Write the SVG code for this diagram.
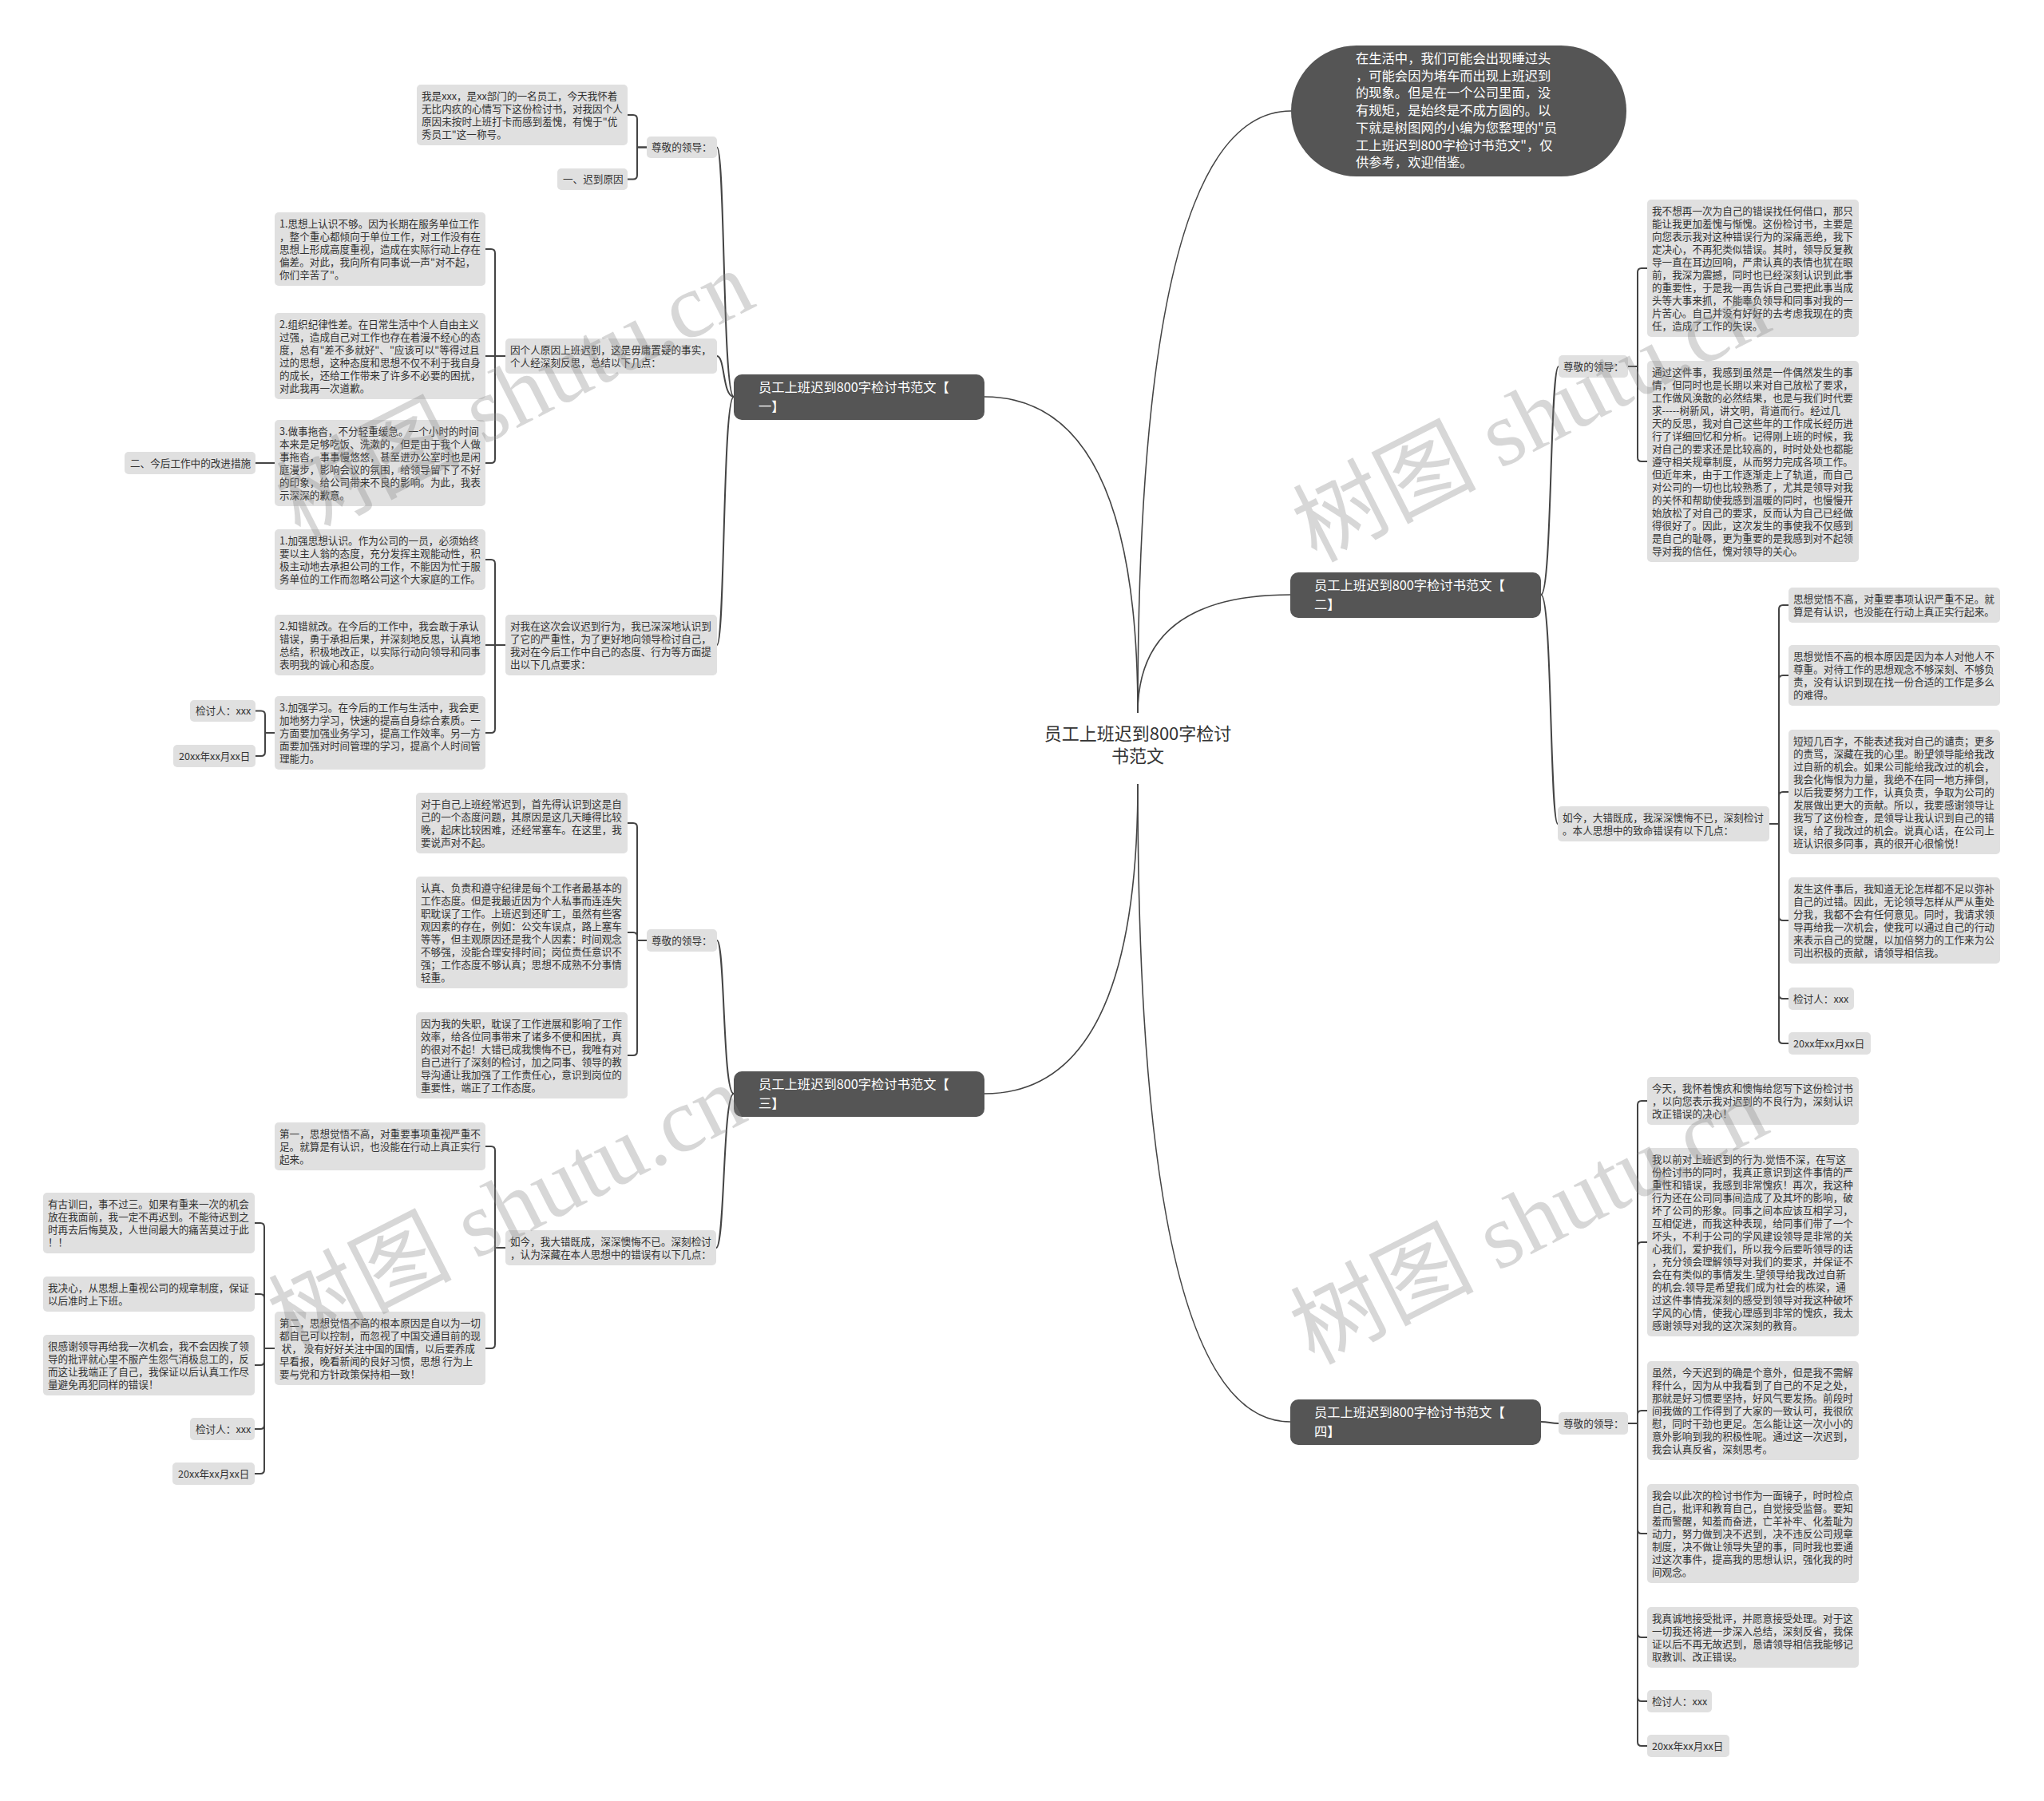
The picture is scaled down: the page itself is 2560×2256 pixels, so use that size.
<svg xmlns="http://www.w3.org/2000/svg" width="2560" height="2256" viewBox="0 0 2560 2256">
<style>
.leaf rect{fill:#e0e0e0}
.leaf text{font-family:"Noto Sans CJK SC","Noto Sans",sans-serif;font-size:12.6px;fill:#333}
.br rect{fill:#555}
.br text{font-family:"Noto Sans CJK SC","Noto Sans",sans-serif;font-size:16.3px;fill:#fff}
.root text{font-family:"Noto Sans CJK SC","Noto Sans",sans-serif;font-size:22px;fill:#333}
.lk path{fill:none;stroke:#444;stroke-width:2}
.lk .rc{stroke-width:1.6}
.wm{font-family:"Liberation Serif","Noto Sans CJK SC",serif;font-size:115px;fill:#888;opacity:.33}
</style>
<rect width="2560" height="2256" fill="#fff"/>

<g id="connectors" class="lk">
<path class="rc" d="M1425,893 Q1425,139 1617,139"/>
<path class="rc" d="M1425,893 Q1425,497 1233,497"/>
<path class="rc" d="M1425,893 Q1425,745 1616,745"/>
<path class="rc" d="M1425,982 Q1425,1370 1233,1370"/>
<path class="rc" d="M1425,982 Q1425,1781 1616,1781"/>

<path d="M919,497 C905,497 908,184.5 898,184.5"/>
<path d="M919,497 C905,497 908,446 898,446"/>
<path d="M919,497 C905,497 908,808 898,808"/>
<path d="M919,1370 C905,1370 908,1178 898,1178"/>
<path d="M919,1370 C905,1370 908,1563 897,1563"/>
<path d="M1930,745 C1944,745 1941,459 1952,459"/>
<path d="M1930,745 C1944,745 1941,1032 1951,1032"/>
<path d="M1930,1781 C1940,1781 1942,1783 1952,1783"/>

<path d="M810,184.5 H798 V149 Q798,144 793,144 H786"/>
<path d="M810,184.5 H798 V219.5 Q798,224.5 793,224.5 H786"/>

<path d="M633,446 H620 V317 Q620,312 615,312 H608"/>
<path d="M633,446 H608"/>
<path d="M633,446 H620 V575 Q620,580 615,580 H608"/>
<path d="M344,580 H320"/>

<path d="M633,808 H620 V706 Q620,701 615,701 H608"/>
<path d="M633,808 H608"/>
<path d="M633,808 H620 V913 Q620,918 615,918 H608"/>
<path d="M344,918 H332 V895.5 Q332,890.5 327,890.5 H320"/>
<path d="M344,918 H332 V942 Q332,947 327,947 H320"/>

<path d="M810,1178 H798 V1036 Q798,1031 793,1031 H786"/>
<path d="M810,1178 H798 V1173 Q798,1168 793,1168 H786"/>
<path d="M810,1178 H798 V1317 Q798,1322 793,1322 H786"/>

<path d="M633,1563 H620 V1441 Q620,1436 615,1436 H608"/>
<path d="M633,1563 H620 V1684 Q620,1689 615,1689 H608"/>

<path d="M344,1689 H331 V1537 Q331,1532 326,1532 H319"/>
<path d="M344,1689 H331 V1626 Q331,1621 326,1621 H319"/>
<path d="M344,1689 H331 V1705 Q331,1710 326,1710 H319"/>
<path d="M344,1689 H331 V1785 Q331,1790 326,1790 H319"/>
<path d="M344,1689 H331 V1841 Q331,1846 326,1846 H319"/>

<path d="M2039,459 H2051 V341 Q2051,336 2056,336 H2063"/>
<path d="M2039,459 H2051 V573 Q2051,578 2056,578 H2063"/>

<path d="M2216,1032 H2228 V763 Q2228,758 2233,758 H2240"/>
<path d="M2216,1032 H2228 V851 Q2228,846 2233,846 H2240"/>
<path d="M2216,1032 H2228 V997 Q2228,992 2233,992 H2240"/>
<path d="M2216,1032 H2228 V1148 Q2228,1153 2233,1153 H2240"/>
<path d="M2216,1032 H2228 V1246 Q2228,1251 2233,1251 H2240"/>
<path d="M2216,1032 H2228 V1302 Q2228,1307 2233,1307 H2240"/>

<path d="M2039,1783 H2051 V1384 Q2051,1379 2056,1379 H2063"/>
<path d="M2039,1783 H2051 V1561 Q2051,1556 2056,1556 H2063"/>
<path d="M2039,1783 H2051 V1772 Q2051,1767 2056,1767 H2063"/>
<path d="M2039,1783 H2051 V1916 Q2051,1921 2056,1921 H2063"/>
<path d="M2039,1783 H2051 V2046 Q2051,2051 2056,2051 H2063"/>
<path d="M2039,1783 H2051 V2126 Q2051,2131 2056,2131 H2063"/>
<path d="M2039,1783 H2051 V2182 Q2051,2187 2056,2187 H2063"/>
</g>

<g id="root" class="root">
<text x="1425" y="927" text-anchor="middle">员工上班迟到800字检讨</text>
<text x="1425" y="955" text-anchor="middle">书范文</text>
</g>

<g id="intro" class="br">
<rect x="1617" y="57" width="420" height="164" rx="82"/>
<text x="1698" y="79"><tspan x="1698">在生活中，我们可能会出现睡过头</tspan><tspan x="1698" dy="21.7">，可能会因为堵车而出现上班迟到</tspan><tspan x="1698" dy="21.7">的现象。但是在一个公司里面，没</tspan><tspan x="1698" dy="21.7">有规矩，是始终是不成方圆的。以</tspan><tspan x="1698" dy="21.7">下就是树图网的小编为您整理的"员</tspan><tspan x="1698" dy="21.7">工上班迟到800字检讨书范文"，仅</tspan><tspan x="1698" dy="21.7">供参考，欢迎借鉴。</tspan></text>
</g>

<g id="b1" class="br"><rect x="919" y="469" width="314" height="57" rx="10"/><text x="950" y="491"><tspan x="950">员工上班迟到800字检讨书范文【</tspan><tspan x="950" dy="24">一】</tspan></text></g>
<g id="b2" class="br"><rect x="1616" y="717" width="314" height="57" rx="10"/><text x="1646" y="739"><tspan x="1646">员工上班迟到800字检讨书范文【</tspan><tspan x="1646" dy="24">二】</tspan></text></g>
<g id="b3" class="br"><rect x="919" y="1342" width="314" height="57" rx="10"/><text x="950" y="1364"><tspan x="950">员工上班迟到800字检讨书范文【</tspan><tspan x="950" dy="24">三】</tspan></text></g>
<g id="b4" class="br"><rect x="1616" y="1753" width="314" height="57" rx="10"/><text x="1646" y="1775"><tspan x="1646">员工上班迟到800字检讨书范文【</tspan><tspan x="1646" dy="24">四】</tspan></text></g>

<!-- group 1 -->
<g id="n1" class="leaf"><rect x="810" y="171" width="88" height="27" rx="5"/><text x="816" y="189">尊敬的领导：</text></g>
<g id="n1a" class="leaf"><rect x="522" y="106" width="264" height="76" rx="5"/><text x="528" y="125"><tspan x="528">我是xxx，是xx部门的一名员工，今天我怀着</tspan><tspan x="528" dy="16">无比内疚的心情写下这份检讨书，对我因个人</tspan><tspan x="528" dy="16">原因未按时上班打卡而感到羞愧，有愧于"优</tspan><tspan x="528" dy="16">秀员工"这一称号。</tspan></text></g>
<g id="n1b" class="leaf"><rect x="698" y="211" width="88" height="27" rx="5"/><text x="705" y="229">一、迟到原因</text></g>

<g id="n1c" class="leaf"><rect x="633" y="424" width="265" height="44" rx="5"/><text x="639" y="443"><tspan x="639">因个人原因上班迟到，这是毋庸置疑的事实，</tspan><tspan x="639" dy="16">个人经深刻反思，总结以下几点：</tspan></text></g>
<g id="n1c1" class="leaf"><rect x="344" y="266" width="264" height="92" rx="5"/><text x="350" y="285"><tspan x="350">1.思想上认识不够。因为长期在服务单位工作</tspan><tspan x="350" dy="16">，整个重心都倾向于单位工作，对工作没有在</tspan><tspan x="350" dy="16">思想上形成高度重视，造成在实际行动上存在</tspan><tspan x="350" dy="16">偏差。对此，我向所有同事说一声"对不起，</tspan><tspan x="350" dy="16">你们辛苦了"。</tspan></text></g>
<g id="n1c2" class="leaf"><rect x="344" y="392" width="264" height="108" rx="5"/><text x="350" y="411"><tspan x="350">2.组织纪律性差。在日常生活中个人自由主义</tspan><tspan x="350" dy="16">过强，造成自己对工作也存在着漫不经心的态</tspan><tspan x="350" dy="16">度，总有"差不多就好"、"应该可以"等得过且</tspan><tspan x="350" dy="16">过的思想，这种态度和思想不仅不利于我自身</tspan><tspan x="350" dy="16">的成长，还给工作带来了许多不必要的困扰，</tspan><tspan x="350" dy="16">对此我再一次道歉。</tspan></text></g>
<g id="n1c3" class="leaf"><rect x="344" y="526" width="264" height="108" rx="5"/><text x="350" y="545"><tspan x="350">3.做事拖沓，不分轻重缓急。一个小时的时间</tspan><tspan x="350" dy="16">本来是足够吃饭、洗漱的，但是由于我个人做</tspan><tspan x="350" dy="16">事拖沓，事事慢悠悠，甚至进办公室时也是闲</tspan><tspan x="350" dy="16">庭漫步，影响会议的氛围，给领导留下了不好</tspan><tspan x="350" dy="16">的印象，给公司带来不良的影响。为此，我表</tspan><tspan x="350" dy="16">示深深的歉意。</tspan></text></g>
<g id="n1c3a" class="leaf"><rect x="156" y="566" width="164" height="28" rx="5"/><text x="163" y="585">二、今后工作中的改进措施</text></g>

<g id="n1d" class="leaf"><rect x="633" y="770" width="265" height="76" rx="5"/><text x="639" y="789"><tspan x="639">对我在这次会议迟到行为，我已深深地认识到</tspan><tspan x="639" dy="16">了它的严重性，为了更好地向领导检讨自己，</tspan><tspan x="639" dy="16">我对在今后工作中自己的态度、行为等方面提</tspan><tspan x="639" dy="16">出以下几点要求：</tspan></text></g>
<g id="n1d1" class="leaf"><rect x="344" y="663" width="264" height="76" rx="5"/><text x="350" y="682"><tspan x="350">1.加强思想认识。作为公司的一员，必须始终</tspan><tspan x="350" dy="16">要以主人翁的态度，充分发挥主观能动性，积</tspan><tspan x="350" dy="16">极主动地去承担公司的工作，不能因为忙于服</tspan><tspan x="350" dy="16">务单位的工作而忽略公司这个大家庭的工作。</tspan></text></g>
<g id="n1d2" class="leaf"><rect x="344" y="770" width="264" height="76" rx="5"/><text x="350" y="789"><tspan x="350">2.知错就改。在今后的工作中，我会敢于承认</tspan><tspan x="350" dy="16">错误，勇于承担后果，并深刻地反思，认真地</tspan><tspan x="350" dy="16">总结，积极地改正，以实际行动向领导和同事</tspan><tspan x="350" dy="16">表明我的诚心和态度。</tspan></text></g>
<g id="n1d3" class="leaf"><rect x="344" y="872" width="264" height="92" rx="5"/><text x="350" y="891"><tspan x="350">3.加强学习。在今后的工作与生活中，我会更</tspan><tspan x="350" dy="16">加地努力学习，快速的提高自身综合素质。一</tspan><tspan x="350" dy="16">方面要加强业务学习，提高工作效率。另一方</tspan><tspan x="350" dy="16">面要加强对时间管理的学习，提高个人时间管</tspan><tspan x="350" dy="16">理能力。</tspan></text></g>
<g id="n1d3a" class="leaf"><rect x="238" y="877" width="82" height="27" rx="5"/><text x="245" y="895">检讨人：xxx</text></g>
<g id="n1d3b" class="leaf"><rect x="217" y="933" width="103" height="28" rx="5"/><text x="224" y="952">20xx年xx月xx日</text></g>

<!-- group 3 -->
<g id="n3" class="leaf"><rect x="810" y="1164" width="88" height="28" rx="5"/><text x="816" y="1183">尊敬的领导：</text></g>
<g id="n3a" class="leaf"><rect x="521" y="993" width="265" height="76" rx="5"/><text x="527" y="1012"><tspan x="527">对于自己上班经常迟到，首先得认识到这是自</tspan><tspan x="527" dy="16">己的一个态度问题，其原因是这几天睡得比较</tspan><tspan x="527" dy="16">晚，起床比较困难，还经常塞车。在这里，我</tspan><tspan x="527" dy="16">要说声对不起。</tspan></text></g>
<g id="n3b" class="leaf"><rect x="521" y="1098" width="265" height="140" rx="5"/><text x="527" y="1117"><tspan x="527">认真、负责和遵守纪律是每个工作者最基本的</tspan><tspan x="527" dy="16">工作态度。但是我最近因为个人私事而连连失</tspan><tspan x="527" dy="16">职耽误了工作。上班迟到还旷工，虽然有些客</tspan><tspan x="527" dy="16">观因素的存在，例如：公交车误点，路上塞车</tspan><tspan x="527" dy="16">等等，但主观原因还是我个人因素：时间观念</tspan><tspan x="527" dy="16">不够强，没能合理安排时间；岗位责任意识不</tspan><tspan x="527" dy="16">强；工作态度不够认真；思想不成熟不分事情</tspan><tspan x="527" dy="16">轻重。</tspan></text></g>
<g id="n3c" class="leaf"><rect x="521" y="1268" width="265" height="108" rx="5"/><text x="527" y="1287"><tspan x="527">因为我的失职，耽误了工作进展和影响了工作</tspan><tspan x="527" dy="16">效率，给各位同事带来了诸多不便和困扰，真</tspan><tspan x="527" dy="16">的很对不起！大错已成我懊悔不已，我唯有对</tspan><tspan x="527" dy="16">自己进行了深刻的检讨，加之同事、领导的教</tspan><tspan x="527" dy="16">导沟通让我加强了工作责任心，意识到岗位的</tspan><tspan x="527" dy="16">重要性，端正了工作态度。</tspan></text></g>

<g id="n3d" class="leaf"><rect x="633" y="1541" width="264" height="44" rx="5"/><text x="639" y="1560"><tspan x="639">如今，我大错既成，深深懊悔不已。深刻检讨</tspan><tspan x="639" dy="16">，认为深藏在本人思想中的错误有以下几点：</tspan></text></g>
<g id="n3d1" class="leaf"><rect x="344" y="1406" width="264" height="60" rx="5"/><text x="350" y="1425"><tspan x="350">第一，思想觉悟不高，对重要事项重视严重不</tspan><tspan x="350" dy="16">足。就算是有认识，也没能在行动上真正实行</tspan><tspan x="350" dy="16">起来。</tspan></text></g>
<g id="n3d2" class="leaf"><rect x="344" y="1643" width="264" height="92" rx="5"/><text x="350" y="1662"><tspan x="350">第二，思想觉悟不高的根本原因是自以为一切</tspan><tspan x="350" dy="16">都自己可以控制，而忽视了中国交通目前的现</tspan><tspan x="350" dy="16"> 状， 没有好好关注中国的国情，以后要养成</tspan><tspan x="350" dy="16">早看报，晚看新闻的良好习惯，思想 行为上</tspan><tspan x="350" dy="16">要与党和方针政策保持相一致！</tspan></text></g>
<g id="f1" class="leaf"><rect x="54" y="1494" width="265" height="76" rx="5"/><text x="60" y="1513"><tspan x="60">有古训曰，事不过三。如果有重来一次的机会</tspan><tspan x="60" dy="16">放在我面前，我一定不再迟到。不能待迟到之</tspan><tspan x="60" dy="16">时再去后悔莫及，人世间最大的痛苦莫过于此</tspan><tspan x="60" dy="16">！！</tspan></text></g>
<g id="f2" class="leaf"><rect x="54" y="1599" width="265" height="44" rx="5"/><text x="60" y="1618"><tspan x="60">我决心，从思想上重视公司的规章制度，保证</tspan><tspan x="60" dy="16">以后准时上下班。</tspan></text></g>
<g id="f3" class="leaf"><rect x="54" y="1672" width="265" height="76" rx="5"/><text x="60" y="1691"><tspan x="60">很感谢领导再给我一次机会，我不会因挨了领</tspan><tspan x="60" dy="16">导的批评就心里不服产生怨气消极怠工的，反</tspan><tspan x="60" dy="16">而这让我端正了自己，我保证以后认真工作尽</tspan><tspan x="60" dy="16">量避免再犯同样的错误！</tspan></text></g>
<g id="f4" class="leaf"><rect x="238" y="1776" width="81" height="28" rx="5"/><text x="245" y="1795">检讨人：xxx</text></g>
<g id="f5" class="leaf"><rect x="216" y="1832" width="103" height="28" rx="5"/><text x="223" y="1851">20xx年xx月xx日</text></g>

<!-- group 2 -->
<g id="n2" class="leaf"><rect x="1952" y="445" width="87" height="28" rx="5"/><text x="1958" y="464">尊敬的领导：</text></g>
<g id="g1" class="leaf"><rect x="2063" y="250" width="265" height="172" rx="5"/><text x="2069" y="269"><tspan x="2069">我不想再一次为自己的错误找任何借口，那只</tspan><tspan x="2069" dy="16">能让我更加羞愧与惭愧。这份检讨书，主要是</tspan><tspan x="2069" dy="16">向您表示我对这种错误行为的深痛恶绝，我下</tspan><tspan x="2069" dy="16">定决心，不再犯类似错误。其时，领导反复教</tspan><tspan x="2069" dy="16">导一直在耳边回响，严肃认真的表情也犹在眼</tspan><tspan x="2069" dy="16">前，我深为震撼，同时也已经深刻认识到此事</tspan><tspan x="2069" dy="16">的重要性，于是我一再告诉自己要把此事当成</tspan><tspan x="2069" dy="16">头等大事来抓，不能辜负领导和同事对我的一</tspan><tspan x="2069" dy="16">片苦心。自己并没有好好的去考虑我现在的责</tspan><tspan x="2069" dy="16">任，造成了工作的失误。</tspan></text></g>
<g id="g2" class="leaf"><rect x="2063" y="452" width="265" height="252" rx="5"/><text x="2069" y="471"><tspan x="2069">通过这件事，我感到虽然是一件偶然发生的事</tspan><tspan x="2069" dy="16">情，但同时也是长期以来对自己放松了要求，</tspan><tspan x="2069" dy="16">工作做风涣散的必然结果，也是与我们时代要</tspan><tspan x="2069" dy="16">求-----树新风，讲文明，背道而行。经过几</tspan><tspan x="2069" dy="16">天的反思，我对自己这些年的工作成长经历进</tspan><tspan x="2069" dy="16">行了详细回忆和分析。记得刚上班的时候，我</tspan><tspan x="2069" dy="16">对自己的要求还是比较高的，时时处处也都能</tspan><tspan x="2069" dy="16">遵守相关规章制度，从而努力完成各项工作。</tspan><tspan x="2069" dy="16">但近年来，由于工作逐渐走上了轨道，而自己</tspan><tspan x="2069" dy="16">对公司的一切也比较熟悉了，尤其是领导对我</tspan><tspan x="2069" dy="16">的关怀和帮助使我感到温暖的同时，也慢慢开</tspan><tspan x="2069" dy="16">始放松了对自己的要求，反而认为自己已经做</tspan><tspan x="2069" dy="16">得很好了。因此，这次发生的事使我不仅感到</tspan><tspan x="2069" dy="16">是自己的耻辱，更为重要的是我感到对不起领</tspan><tspan x="2069" dy="16">导对我的信任，愧对领导的关心。</tspan></text></g>

<g id="n2b" class="leaf"><rect x="1951" y="1010" width="265" height="44" rx="5"/><text x="1957" y="1029"><tspan x="1957">如今，大错既成，我深深懊悔不已，深刻检讨</tspan><tspan x="1957" dy="16">。本人思想中的致命错误有以下几点：</tspan></text></g>
<g id="h1" class="leaf"><rect x="2240" y="736" width="265" height="44" rx="5"/><text x="2246" y="755"><tspan x="2246">思想觉悟不高，对重要事项认识严重不足。就</tspan><tspan x="2246" dy="16">算是有认识，也没能在行动上真正实行起来。</tspan></text></g>
<g id="h2" class="leaf"><rect x="2240" y="808" width="265" height="76" rx="5"/><text x="2246" y="827"><tspan x="2246">思想觉悟不高的根本原因是因为本人对他人不</tspan><tspan x="2246" dy="16">尊重。对待工作的思想观念不够深刻、不够负</tspan><tspan x="2246" dy="16">责，没有认识到现在找一份合适的工作是多么</tspan><tspan x="2246" dy="16">的难得。</tspan></text></g>
<g id="h3" class="leaf"><rect x="2240" y="914" width="265" height="156" rx="5"/><text x="2246" y="933"><tspan x="2246">短短几百字，不能表述我对自己的谴责；更多</tspan><tspan x="2246" dy="16">的责骂，深藏在我的心里。盼望领导能给我改</tspan><tspan x="2246" dy="16">过自新的机会。如果公司能给我改过的机会，</tspan><tspan x="2246" dy="16">我会化悔恨为力量，我绝不在同一地方摔倒，</tspan><tspan x="2246" dy="16">以后我要努力工作，认真负责，争取为公司的</tspan><tspan x="2246" dy="16">发展做出更大的贡献。所以，我要感谢领导让</tspan><tspan x="2246" dy="16">我写了这份检查，是领导让我认识到自己的错</tspan><tspan x="2246" dy="16">误，给了我改过的机会。说真心话，在公司上</tspan><tspan x="2246" dy="16">班认识很多同事，真的很开心很愉悦！</tspan></text></g>
<g id="h4" class="leaf"><rect x="2240" y="1099" width="265" height="108" rx="5"/><text x="2246" y="1118"><tspan x="2246">发生这件事后，我知道无论怎样都不足以弥补</tspan><tspan x="2246" dy="16">自己的过错。因此，无论领导怎样从严从重处</tspan><tspan x="2246" dy="16">分我，我都不会有任何意见。同时，我请求领</tspan><tspan x="2246" dy="16">导再给我一次机会，使我可以通过自己的行动</tspan><tspan x="2246" dy="16">来表示自己的觉醒，以加倍努力的工作来为公</tspan><tspan x="2246" dy="16">司出积极的贡献，请领导相信我。</tspan></text></g>
<g id="h5" class="leaf"><rect x="2240" y="1237" width="82" height="28" rx="5"/><text x="2246" y="1256">检讨人：xxx</text></g>
<g id="h6" class="leaf"><rect x="2240" y="1293" width="103" height="28" rx="5"/><text x="2246" y="1312">20xx年xx月xx日</text></g>

<!-- group 4 -->
<g id="n4" class="leaf"><rect x="1952" y="1769" width="87" height="28" rx="5"/><text x="1958" y="1788">尊敬的领导：</text></g>
<g id="i1" class="leaf"><rect x="2063" y="1349" width="265" height="60" rx="5"/><text x="2069" y="1368"><tspan x="2069">今天，我怀着愧疚和懊悔给您写下这份检讨书</tspan><tspan x="2069" dy="16">，以向您表示我对迟到的不良行为，深刻认识</tspan><tspan x="2069" dy="16">改正错误的决心！</tspan></text></g>
<g id="i2" class="leaf"><rect x="2063" y="1438" width="265" height="236" rx="5"/><text x="2069" y="1457"><tspan x="2069">我以前对上班迟到的行为.觉悟不深，在写这</tspan><tspan x="2069" dy="16">份检讨书的同时，我真正意识到这件事情的严</tspan><tspan x="2069" dy="16">重性和错误，我感到非常愧疚！再次，我这种</tspan><tspan x="2069" dy="16">行为还在公司同事间造成了及其坏的影响，破</tspan><tspan x="2069" dy="16">坏了公司的形象。同事之间本应该互相学习，</tspan><tspan x="2069" dy="16">互相促进，而我这种表现，给同事们带了一个</tspan><tspan x="2069" dy="16">坏头，不利于公司的学风建设领导是非常的关</tspan><tspan x="2069" dy="16">心我们，爱护我们，所以我今后要听领导的话</tspan><tspan x="2069" dy="16">，充分领会理解领导对我们的要求，并保证不</tspan><tspan x="2069" dy="16">会在有类似的事情发生.望领导给我改过自新</tspan><tspan x="2069" dy="16">的机会.领导是希望我们成为社会的栋梁，通</tspan><tspan x="2069" dy="16">过这件事情我深刻的感受到领导对我这种破坏</tspan><tspan x="2069" dy="16">学风的心情，使我心理感到非常的愧疚，我太</tspan><tspan x="2069" dy="16">感谢领导对我的这次深刻的教育。</tspan></text></g>
<g id="i3" class="leaf"><rect x="2063" y="1705" width="265" height="124" rx="5"/><text x="2069" y="1724"><tspan x="2069">虽然，今天迟到的确是个意外，但是我不需解</tspan><tspan x="2069" dy="16">释什么，因为从中我看到了自己的不足之处，</tspan><tspan x="2069" dy="16">那就是好习惯要坚持，好风气要发扬。前段时</tspan><tspan x="2069" dy="16">间我做的工作得到了大家的一致认可，我很欣</tspan><tspan x="2069" dy="16">慰，同时干劲也更足。怎么能让这一次小小的</tspan><tspan x="2069" dy="16">意外影响到我的积极性呢。通过这一次迟到，</tspan><tspan x="2069" dy="16">我会认真反省，深刻思考。</tspan></text></g>
<g id="i4" class="leaf"><rect x="2063" y="1859" width="265" height="124" rx="5"/><text x="2069" y="1878"><tspan x="2069">我会以此次的检讨书作为一面镜子，时时检点</tspan><tspan x="2069" dy="16">自己，批评和教育自己，自觉接受监督。要知</tspan><tspan x="2069" dy="16">羞而警醒，知羞而奋进，亡羊补牢、化羞耻为</tspan><tspan x="2069" dy="16">动力，努力做到决不迟到，决不违反公司规章</tspan><tspan x="2069" dy="16">制度，决不做让领导失望的事，同时我也要通</tspan><tspan x="2069" dy="16">过这次事件，提高我的思想认识，强化我的时</tspan><tspan x="2069" dy="16">间观念。</tspan></text></g>
<g id="i5" class="leaf"><rect x="2063" y="2013" width="265" height="76" rx="5"/><text x="2069" y="2032"><tspan x="2069">我真诚地接受批评，并愿意接受处理。对于这</tspan><tspan x="2069" dy="16">一切我还将进一步深入总结，深刻反省，我保</tspan><tspan x="2069" dy="16">证以后不再无故迟到，恳请领导相信我能够记</tspan><tspan x="2069" dy="16">取教训、改正错误。</tspan></text></g>
<g id="i6" class="leaf"><rect x="2063" y="2117" width="81" height="28" rx="5"/><text x="2069" y="2136">检讨人：xxx</text></g>
<g id="i7" class="leaf"><rect x="2063" y="2173" width="103" height="28" rx="5"/><text x="2069" y="2192">20xx年xx月xx日</text></g>

<g id="watermarks">
<text class="wm" x="375" y="675" transform="rotate(-27 375 675)">树图 shutu.cn</text>
<text class="wm" x="1648" y="705" transform="rotate(-27 1648 705)">树图 shutu.cn</text>
<text class="wm" x="365" y="1695" transform="rotate(-27 365 1695)">树图 shutu.cn</text>
<text class="wm" x="1645" y="1710" transform="rotate(-27 1645 1710)">树图 shutu.cn</text>
</g>
</svg>
